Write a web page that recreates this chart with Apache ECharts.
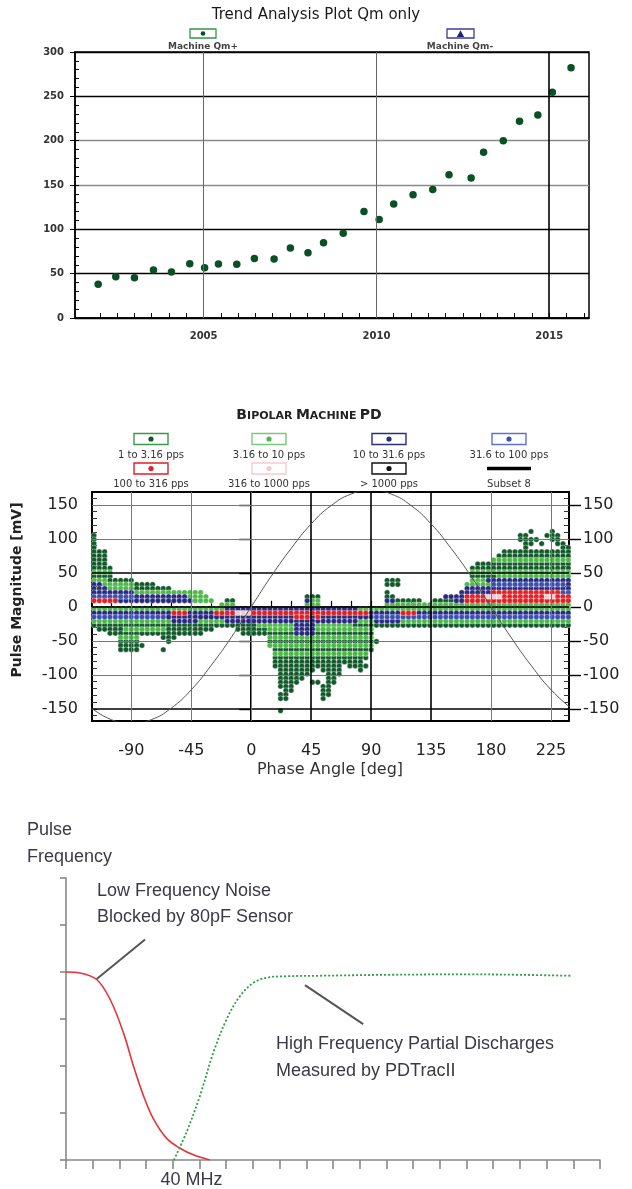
<!DOCTYPE html>
<html>
<head>
<meta charset="utf-8">
<script src="https://cdn.jsdelivr.net/npm/echarts@6/dist/echarts.min.js"></script>
<style>
html, body { margin: 0; padding: 0; background: #fff; }
#chart { width: 632px; height: 1189px; }
</style>
</head>
<body>
<div id="chart"></div>
<script>
// ---- Trend Analysis Plot (Qm+) ----
var trendYears = [2001.95, 2002.46, 2003.0, 2003.55, 2004.07, 2004.6, 2005.03, 2005.43, 2005.96, 2006.47,
  2007.04, 2007.51, 2008.02, 2008.47, 2009.04, 2009.64, 2010.08, 2010.5, 2011.06, 2011.63,
  2012.1, 2012.74, 2013.1, 2013.67, 2014.14, 2014.67, 2015.09, 2015.63];
var trendQm = [38, 46.6, 45.5, 54, 52, 61.3, 56.8, 60.9, 60.5, 67,
  66.5, 79, 73.7, 85, 95.5, 120, 111, 128.6, 139, 145,
  161.7, 158, 187, 200, 222, 229, 254.5, 282.3];
var trendYearLabels = [2005, 2010, 2015];
var trendYearTicks = [2002, 2002.5, 2003, 2003.5, 2004, 2004.5, 2005, 2005.5, 2006, 2006.5, 2007, 2007.5,
  2008, 2008.5, 2009, 2009.5, 2010, 2010.5, 2011, 2011.5, 2012, 2012.5, 2013, 2013.5, 2014, 2014.5,
  2015, 2015.5, 2016];

// ---- Bipolar Machine PD ----
var pdPhaseLabels = [-90, -45, 0, 45, 90, 135, 180, 225];
var pdPhaseTicks = [-105, -90, -75, -60, -45, -30, -15, 0, 15, 30, 45, 60, 75, 90, 105, 120, 135, 150, 165, 180, 195, 210, 225];
var pdMagLabels = [-150, -100, -50, 0, 50, 100, 150];
var pdMagMinor = [-160, -150, -140, -130, -120, -110, -100, -90, -80, -70, -60, -50, -40, -30, -20, -10, 0,
  10, 20, 30, 40, 50, 60, 70, 80, 90, 100, 110, 120, 130, 140, 150, 160];
// reference voltage trace
var sinePhase = [-120, -105, -90, -75, -60, -45, -30, -15, 0, 15, 30, 45, 60, 75, 90, 105, 120, 135, 150, 165, 180, 195, 210, 225, 240];
var sineMag = [-149, -166, -172, -166, -149, -122, -86, -45, 0, 45, 86, 122, 149, 166, 172, 166, 149, 122, 86, 45, 0, -45, -86, -122, -149];
// phase bins of the pulse map (one char per bin in pdMap rows)
var pdPhaseBins = [
  -118, -114, -110, -106, -102, -98, -94, -90, -86, -82,
  -78, -74, -70, -66, -62, -58, -54, -50, -46, -42,
  -38, -34, -30, -26, -22, -18, -14, -10, -6, -2,
  2, 6, 10, 14, 18, 22, 26, 30, 34, 38,
  42, 46, 50, 54, 58, 62, 66, 70, 74, 78,
  82, 86, 90, 94, 98, 102, 106, 110, 114, 118,
  122, 126, 130, 134, 138, 142, 146, 150, 154, 158,
  162, 166, 170, 174, 178, 182, 186, 190, 194, 198,
  202, 206, 210, 214, 218, 222, 226, 230, 234, 238];
var pdMags = [111, 105, 99, 93, 87, 81, 75, 69, 63, 57, 51, 45, 39, 33, 27, 21, 15, 9, 3,
  -3, -9, -15, -21, -27, -33, -39, -45, -51, -57, -63, -69, -75, -81, -87, -93, -99, -105,
  -111, -117, -123, -129, -135, -153];
// g 1-3.16, l 3.16-10, b 10-31.6, u 31.6-100, r 100-316, p 316-1000 pps
var pdMap = [
  ".......... .......... .......... .......... .......... .......... .......... .......... ..g...g...",
  "g......... .......... .......... .......... .......... .......... .......... .......... gg...ggg..",
  "g......... .......... .......... .......... .......... .......... .......... .......... gggg..gg..",
  "g......... .......... .......... .......... .......... .......... .......... .......... .gg.g..gg.",
  "g......... .......... .......... .......... .......... .......... .......... .......... .g......gg",
  "ggg....... .......... .......... .......... .......... .......... .......... .......ggg gggggggggg",
  "ggg....... .......... .......... .......... .......... .......... .......... ......gggg gggggggggg",
  "ggg....... .......... .......... .......... .......... .......... .......... .....lllll llllllllll",
  "ggg....... .......... .......... .......... .......... .......... .......... ..gggggggg gggggggggg",
  "gggg...... .......... .......... .......... .......... .......... .......... .ggggggggg gggggggggg",
  "llll...... .......... .......... .......... .......... .......... .......... .lllllllll llllllllll",
  "gggg...... .......... .......... .......... .......... .......... .......... .gggggllll llllllllll",
  "lllggggg.. .......... .......... .......... .......... .....ggg.. .......... .lllbbbbbb bbbbbbbbbb",
  "bbllllllgg gg........ .......... .......... .......... .....ggg.. .......... llllluuuuu uuuuuuuuub",
  "bbblllllgg ggggg..... .......... .......... .......... .......... .......... bbbbbbbbbb bbbbbbbbbb",
  "bbbbbbbbll llllllllll l......... .......... .......... .....g.... .........b bbbbbrrrrr rrrrrrrruu",
  "uuuuuuuubb bbbbbbbbll ll........ .......... ggg....... .....gg... ......bbbb rrrrppprrr rrrrrpprrr",
  "rrrrrbbbbb bbbbbbbbbl lll..gg... .......... bll....... .....bbggg gg..ggggbb rrrrrrrrrr rrrrrrrrrr",
  ".......... .......... ....lll... .......... lll....... .....lllll llllllllll llllllllll llllllllll",
  "llllllllll llllllllll lllllbbbbb bbbbbbbbbb bbbbbbbbbb llllllllll llllllllll llllllllll llllllllll",
  "bbbbbbbbbb bbbbbrrrbb bbbrrrrppp rrrrrrrrrr rrrrrrrrrr rrbbbbbbrr rbbbbbbbbb bbbbbbbbbb bbbbbbbbbb",
  "uuuuuuuuuu uuuubbbbbb bbbbbbbbbb bbbbbbbbrr rbrbbbbbbb bbbuuuuuuu uuuuuuuuuu uuuuuuuuuu uuuuuuuuuu",
  "llllllllll lllllbbbbb lllllbbbbb bbbbbbbbbb bbbbbbbbbb lllbbbbbll llllllllll llllllllll llllllllll",
  "gggggggggg gggggggggg gggggggggg glllllllbb bblllllllg gggggggggg gggggggggg gggggggggg gggggggggg",
  ".gggggllll llllgggggg ggg....ggg ggglllllbb bbllllllll lll....... .......... .......... ..........",
  "...ggggggg gggggggggg g.......gg ggggggggbb bbgggggggg ggg....... .......... .......... ..........",
  ".....llll. ...ggg.... .......... ...lllllll llllllllll lll....... .......... .......... ..........",
  ".....gggg. ....g..... .......... ...ggggggg gggggggggg gggg...... .......... .......... ..........",
  ".....ggggg .......... .......... ...lllllll llllllllll lll....... .......... .......... ..........",
  ".....gggg. ...g...... .......... ....gggggg gggggggggg ggg....... .......... .......... ..........",
  ".......... .......... .......... ....llllll llllllllll ll........ .......... .......... ..........",
  ".......... .......... .......... ....gggggg gggggggggg gg........ .......... .......... ..........",
  ".......... .......... .......... ....gggggg gggggggggg g......... .......... .......... ..........",
  ".......... .......... .......... ....gggggg ggggggg.gg gg........ .......... .......... ..........",
  ".......... .......... .......... .....ggggg gg.gggg... g......... .......... .......... ..........",
  ".......... .......... .......... .....ggggg g...ggg... .......... .......... .......... ..........",
  ".......... .......... .......... .....ggggg ....gg.... .......... .......... .......... ..........",
  ".......... .......... .......... .....gggg. .gg.gg.... .......... .......... .......... ..........",
  ".......... .......... .......... .....ggg.. ...gg..... .......... .......... .......... ..........",
  ".......... .......... .......... ......gg.. ...gg..... .......... .......... .......... ..........",
  ".......... .......... .......... .....gg... ...gg..... .......... .......... .......... ..........",
  ".......... .......... .......... .....gg... ...g...... .......... .......... .......... ..........",
  ".......... .......... .......... .....g.... .......... .......... .......... .......... .........."
];
var pdCodes = ['g', 'l', 'b', 'u', 'r', 'p'];
var pdNames = ['1 to 3.16 pps', '3.16 to 10 pps', '10 to 31.6 pps', '31.6 to 100 pps', '100 to 316 pps', '316 to 1000 pps'];

// ---- Pulse frequency sketch ----
var lowNoiseFreq = [0, 0.52, 1.15, 1.65, 2.15, 2.52, 2.9, 3.27, 3.77, 4.27, 4.77, 5.39];
var lowNoiseLevel = [4.0, 3.98, 3.84, 3.42, 2.71, 2.01, 1.37, 0.88, 0.46, 0.25, 0.11, 0];
var pdFreq = [4.04, 4.52, 5.02, 5.52, 6.02, 6.52, 7.02, 7.52, 8.27, 9.5, 12, 15, 17, 18.9];
var pdLevel = [0, 0.6, 1.37, 2.29, 3.0, 3.49, 3.77, 3.88, 3.91, 3.92, 3.94, 3.95, 3.94, 3.92];
var freqLabelAt = [4.7];
var noteLowStart = [1.15, 3.85], noteLowEnd = [2.96, 4.69];
var noteHighStart = [8.95, 3.72], noteHighEnd = [11.13, 2.89];

var pdColors = { g: '#12592a', l: '#4db848', b: '#282a80', u: '#3b4fb0', r: '#e11f26', p: '#f6c9cf' };
var DV = '"DejaVu Sans", sans-serif';
var LS = '"Liberation Sans", Arial, sans-serif';

function zip(a, b) {
  return a.map(function (v, i) { return [v, b[i]]; });
}

function pdPoints(code) {
  var pts = [];
  pdMap.forEach(function (row, r) {
    var cells = row.replace(/ /g, '');
    for (var i = 0; i < cells.length; i++) {
      if (cells[i] === code) pts.push([pdPhaseBins[i], pdMags[r]]);
    }
  });
  return pts;
}

var chart = echarts.init(document.getElementById('chart'), null, { renderer: 'canvas' });

// legend boxes drawn by hand (box above the label, like the original)
var pdLegend = [
  { x: 151, y: 439, name: pdNames[0], box: '#3a9a4a', dot: pdColors.g },
  { x: 269, y: 439, name: pdNames[1], box: '#78c878', dot: pdColors.l },
  { x: 389, y: 439, name: pdNames[2], box: '#2a2c80', dot: pdColors.b },
  { x: 509, y: 439, name: pdNames[3], box: '#6070d0', dot: pdColors.u },
  { x: 151, y: 468.5, name: pdNames[4], box: '#e11f26', dot: pdColors.r },
  { x: 269, y: 468.5, name: pdNames[5], box: '#f6c9cf', dot: pdColors.p },
  { x: 389, y: 468.5, name: '> 1000 pps', box: '#111', dot: '#111' },
  { x: 509, y: 468.5, name: 'Subset 8', line: true }
];
var graphics = [];
pdLegend.forEach(function (it) {
  if (it.line) {
    graphics.push({ type: 'rect', shape: { x: it.x - 22, y: it.y - 1.8, width: 44, height: 3.6 }, style: { fill: '#000' } });
  } else {
    graphics.push({ type: 'rect', shape: { x: it.x - 17, y: it.y - 5.5, width: 34, height: 11 }, style: { fill: '#fff', stroke: it.box, lineWidth: 1.4 } });
    graphics.push({ type: 'circle', shape: { cx: it.x, cy: it.y, r: 2.6 }, style: { fill: it.dot } });
  }
  graphics.push({ type: 'text', x: it.x, y: it.y + 16, style: { text: it.name, font: '10px ' + DV, fill: '#333', align: 'center', verticalAlign: 'middle' } });
});

graphics = graphics.concat([
  { type: 'text', x: 316, y: 15.5, style: { text: 'Trend Analysis Plot Qm only', font: '15px ' + DV, fill: '#1a1a1a', align: 'center', verticalAlign: 'middle' } },
  { type: 'rect', shape: { x: 190, y: 29, width: 26, height: 9 }, style: { fill: '#fff', stroke: '#2e9a45', lineWidth: 1.3 } },
  { type: 'circle', shape: { cx: 203, cy: 33.5, r: 2.3 }, style: { fill: '#0b4f24' } },
  { type: 'text', x: 203, y: 46.5, style: { text: 'Machine Qm+', font: 'bold 9px ' + DV, fill: '#444', align: 'center', verticalAlign: 'middle' } },
  { type: 'rect', shape: { x: 447, y: 29, width: 27, height: 9 }, style: { fill: '#fff', stroke: '#3c3c9c', lineWidth: 1.3 } },
  { type: 'polygon', shape: { points: [[460.5, 30.3], [456.8, 37], [464.2, 37]] }, style: { fill: '#22227a' } },
  { type: 'text', x: 460, y: 46.5, style: { text: 'Machine Qm-', font: 'bold 9px ' + DV, fill: '#444', align: 'center', verticalAlign: 'middle' } },

  { type: 'text', x: 309, y: 415, style: {
      text: '{a|B}{b|IPOLAR} {a|M}{b|ACHINE} {a|PD}', align: 'center', verticalAlign: 'middle',
      rich: { a: { font: 'bold 14px ' + DV, fill: '#222', verticalAlign: 'bottom' }, b: { font: 'bold 11px ' + DV, fill: '#222', verticalAlign: 'bottom' } } } },
  { type: 'text', x: 17, y: 590, rotation: Math.PI / 2, style: { text: 'Pulse Magnitude [mV]', font: 'bold 14px ' + DV, fill: '#222', align: 'center', verticalAlign: 'middle' } },
  { type: 'text', x: 330, y: 770, style: { text: 'Phase Angle [deg]', font: '16px ' + DV, fill: '#333', align: 'center', verticalAlign: 'middle' } },

  { type: 'text', x: 27, y: 830, style: { text: 'Pulse', font: '18px ' + LS, fill: '#3a3a44', verticalAlign: 'middle' } },
  { type: 'text', x: 27, y: 857, style: { text: 'Frequency', font: '18px ' + LS, fill: '#3a3a44', verticalAlign: 'middle' } },
  { type: 'text', x: 97, y: 891, style: { text: 'Low Frequency Noise', font: '18px ' + LS, fill: '#3a3a44', verticalAlign: 'middle' } },
  { type: 'text', x: 97, y: 917, style: { text: 'Blocked by 80pF Sensor', font: '18px ' + LS, fill: '#3a3a44', verticalAlign: 'middle' } },
  { type: 'text', x: 276, y: 1044, style: { text: 'High Frequency Partial Discharges', font: '18px ' + LS, fill: '#3a3a44', verticalAlign: 'middle' } },
  { type: 'text', x: 276, y: 1071, style: { text: 'Measured by PDTracII', font: '18px ' + LS, fill: '#3a3a44', verticalAlign: 'middle' } }
]);

var hideAxis = { axisLine: { show: false }, axisLabel: { show: false }, splitLine: { show: false } };
var plainNumber = function (v) { return String(v); };

var pdSeries = pdCodes.map(function (c, k) {
  return {
    name: pdNames[k], type: 'scatter', xAxisIndex: 1, yAxisIndex: 2,
    data: pdPoints(c), symbol: 'circle', symbolSize: 5.4, z: 2,
    itemStyle: { color: pdColors[c], borderColor: 'rgba(255,255,255,0.6)', borderWidth: 0.6, opacity: 1 }
  };
});

var grey = { color: '#777', width: 1 }, black = { color: '#000', width: 1.6 };

var option = {
  animation: false,
  backgroundColor: '#fff',
  graphic: graphics,
  grid: [
    { left: 75, top: 52, width: 514, height: 266, show: true, borderColor: '#000', borderWidth: 1.5 },
    { left: 92, top: 492, width: 477, height: 229, show: true, borderColor: '#000', borderWidth: 2 },
    { left: 66, top: 878, width: 534, height: 284 }
  ],
  xAxis: [
    { gridIndex: 0, type: 'value', min: 2001.28, max: 2016.15,
      axisLine: { lineStyle: { color: '#000', width: 1.5 } },
      axisTick: { customValues: trendYearTicks, inside: true, length: 5, lineStyle: { color: '#000' } },
      axisLabel: { customValues: trendYearLabels, formatter: plainNumber, margin: 13, fontFamily: DV, fontWeight: 'bold', fontSize: 10, color: '#333' },
      splitLine: { show: false } },
    { gridIndex: 1, type: 'value', min: -119.5, max: 238.5,
      axisLine: { lineStyle: { color: '#000', width: 2 } },
      axisTick: { customValues: pdPhaseTicks, inside: true, length: 6, lineStyle: { color: '#000', width: 1.2 } },
      axisLabel: { customValues: pdPhaseLabels, margin: 22, fontFamily: DV, fontSize: 16, color: '#222' },
      splitLine: { show: false } },
    { gridIndex: 2, type: 'value', min: 0, max: 20, interval: 1,
      axisLine: { lineStyle: { color: '#888', width: 1.6 } },
      axisTick: { length: 9, lineStyle: { color: '#888', width: 1.6 } },
      axisLabel: { customValues: freqLabelAt, formatter: function () { return '40 MHz'; }, margin: 11, fontFamily: LS, fontSize: 18, color: '#3a3a44' },
      splitLine: { show: false } }
  ],
  yAxis: [
    { gridIndex: 0, type: 'value', min: 0, max: 300, interval: 50, position: 'left',
      axisLine: { lineStyle: { color: '#000', width: 1.5 } },
      axisTick: { length: 5, lineStyle: { color: '#000' } },
      axisLabel: { margin: 11, fontFamily: DV, fontWeight: 'bold', fontSize: 10, color: '#333' },
      splitLine: { lineStyle: { color: ['#000', '#000', '#000', '#8a8a8a', '#8a8a8a', '#000', '#000'], width: 1.4 } } },
    Object.assign({ gridIndex: 0, type: 'value', min: 0, max: 300, interval: 10, position: 'left',
      axisTick: { inside: true, length: 4, lineStyle: { color: '#000' } } }, hideAxis),

    { gridIndex: 1, type: 'value', min: -168, max: 169, position: 'left',
      axisLine: { lineStyle: { color: '#000', width: 2 } },
      axisTick: { customValues: pdMagLabels, length: 12, lineStyle: { color: '#000', width: 1.4 } },
      axisLabel: { customValues: pdMagLabels, margin: 14, fontFamily: DV, fontSize: 16, color: '#222' },
      splitLine: { show: false } },
    Object.assign({ gridIndex: 1, type: 'value', min: -168, max: 169, position: 'left',
      axisTick: { customValues: pdMagMinor, inside: true, length: 5, lineStyle: { color: '#333' } } }, hideAxis),
    { gridIndex: 1, type: 'value', min: -168, max: 169, position: 'right',
      axisLine: { lineStyle: { color: '#000', width: 2 } },
      axisTick: { customValues: pdMagLabels, length: 12, lineStyle: { color: '#000', width: 1.4 } },
      axisLabel: { customValues: pdMagLabels, margin: 14, fontFamily: DV, fontSize: 16, color: '#222' },
      splitLine: { show: false } },
    Object.assign({ gridIndex: 1, type: 'value', min: -168, max: 169, position: 'right',
      axisTick: { customValues: pdMagMinor, inside: true, length: 5, lineStyle: { color: '#333' } } }, hideAxis),

    { gridIndex: 2, type: 'value', min: 0, max: 6, interval: 1,
      axisLine: { show: true, lineStyle: { color: '#888', width: 1.6 } },
      axisTick: { show: true, length: 6, lineStyle: { color: '#888', width: 1.6 } },
      axisLabel: { show: false }, splitLine: { show: false } }
  ],
  series: [
    { name: 'Machine Qm+', type: 'scatter', xAxisIndex: 0, yAxisIndex: 0,
      data: zip(trendYears, trendQm), symbolSize: 7.5, itemStyle: { color: '#0b4f24', opacity: 1 },
      markLine: { silent: true, symbol: ['none', 'none'], label: { show: false },
        data: [
          { xAxis: 2005, lineStyle: { color: '#666', width: 1, type: 'solid' } },
          { xAxis: 2010, lineStyle: { color: '#666', width: 1, type: 'solid' } },
          { xAxis: 2015, lineStyle: { color: '#000', width: 1.6, type: 'solid' } }
        ] } }
  ].concat(pdSeries).concat([
    { name: 'Subset 8', type: 'line', xAxisIndex: 1, yAxisIndex: 2, z: 5,
      data: zip(sinePhase, sineMag), smooth: 0.5, symbol: 'none',
      lineStyle: { color: '#555', width: 1 },
      markLine: { silent: true, symbol: ['none', 'none'], label: { show: false },
        data: [
          { yAxis: 150, lineStyle: Object.assign({ type: 'solid' }, grey) },
          { yAxis: 100, lineStyle: Object.assign({ type: 'solid' }, grey) },
          { yAxis: 50, lineStyle: Object.assign({ type: 'solid' }, black) },
          { yAxis: 0, lineStyle: Object.assign({ type: 'solid' }, black) },
          { yAxis: -50, lineStyle: Object.assign({ type: 'solid' }, grey) },
          { yAxis: -100, lineStyle: Object.assign({ type: 'solid' }, grey) },
          { yAxis: -150, lineStyle: Object.assign({ type: 'solid' }, black) },
          { xAxis: -90, lineStyle: Object.assign({ type: 'solid' }, grey) },
          { xAxis: -45, lineStyle: Object.assign({ type: 'solid' }, grey) },
          { xAxis: 0, lineStyle: Object.assign({ type: 'solid' }, grey) },
          { xAxis: 45, lineStyle: Object.assign({ type: 'solid' }, black) },
          { xAxis: 90, lineStyle: Object.assign({ type: 'solid' }, black) },
          { xAxis: 135, lineStyle: Object.assign({ type: 'solid' }, black) },
          { xAxis: 180, lineStyle: Object.assign({ type: 'solid' }, grey) },
          { xAxis: 225, lineStyle: Object.assign({ type: 'solid' }, grey) }
        ] } },

    { name: 'Low Frequency Noise', type: 'line', xAxisIndex: 2, yAxisIndex: 6,
      data: zip(lowNoiseFreq, lowNoiseLevel), smooth: 0.35, symbol: 'none',
      lineStyle: { color: '#e4343a', width: 1.6 },
      markLine: { silent: true, symbol: ['none', 'none'], label: { show: false },
        lineStyle: { color: '#555', width: 2, type: 'solid' },
        data: [
          [{ coord: noteLowStart }, { coord: noteLowEnd }],
          [{ coord: noteHighStart }, { coord: noteHighEnd }]
        ] } },
    { name: 'High Frequency Partial Discharges', type: 'line', xAxisIndex: 2, yAxisIndex: 6,
      data: zip(pdFreq, pdLevel), smooth: 0.35, symbol: 'none',
      lineStyle: { color: '#2f9d45', width: 1.8, type: [2, 2] } }
  ])
};

chart.setOption(option);
</script>
</body>
</html>
